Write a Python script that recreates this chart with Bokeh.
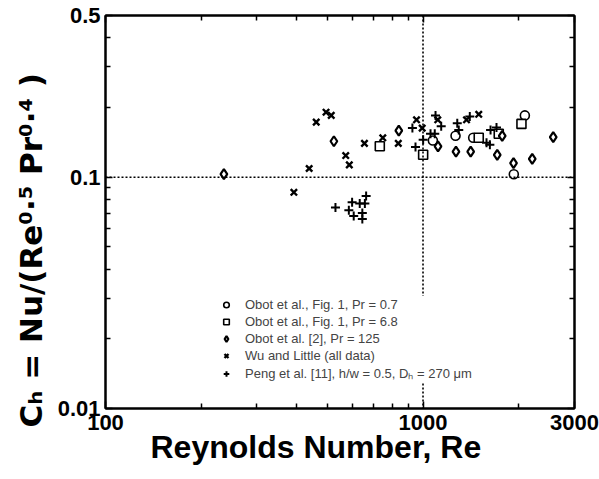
import math
from bokeh.plotting import figure
from bokeh.models import (LogAxis, FixedTicker, Span, Title, Legend, LegendItem, Range1d)
from bokeh.embed import file_html
from bokeh.resources import INLINE

# ---- data ----
re_pr07 = [1074, 1266, 1439, 1932, 2093]
c_pr07 = [0.144, 0.151, 0.148, 0.103, 0.185]

re_pr68 = [731, 1001, 1498, 1732, 2042]
c_pr68 = [0.136, 0.125, 0.148, 0.154, 0.170]

re_pr125 = [236, 524, 839, 1115, 1270, 1413, 1713, 1776, 1928, 2208, 2571]
c_pr125 = [0.103, 0.143, 0.159, 0.136, 0.129, 0.129, 0.125, 0.151, 0.115, 0.120, 0.149]

re_wu = [392, 438, 461, 495, 514, 571, 586, 654, 747, 836, 954, 994, 1113, 1371, 1498]
c_wu = [0.086, 0.109, 0.173, 0.191, 0.185, 0.124, 0.113, 0.140, 0.148, 0.140, 0.177, 0.163, 0.177, 0.177, 0.187]

re_peng = [530, 598, 632, 662, 656, 584, 605, 644, 644,
           926, 1001, 947, 1095, 1141, 1056, 1089, 1282, 1296, 1404, 1632, 1704, 1585, 1624]
c_peng = [0.074, 0.078, 0.077, 0.083, 0.077, 0.072, 0.068, 0.070, 0.066,
          0.163, 0.145, 0.135, 0.185, 0.166, 0.154, 0.154, 0.171, 0.160, 0.183, 0.160, 0.164, 0.141, 0.138]

series_labels = ["Obot et al., Fig. 1, Pr = 0.7",
                 "Obot et al., Fig. 1, Pr = 6.8",
                 "Obot et al. [2], Pr = 125",
                 "Wu and Little (all data)",
                 "Peng et al. [11], h/w = 0.5, D\u2095 = 270 \u03bcm"]

x_major = [100, 1000, 3000]
x_minor = [200, 300, 400, 500, 600, 700, 800, 900, 2000]
x_tick_labels = ["100", "1000", "3000"]
y_major = [0.01, 0.1, 0.5]
y_minor = [0.02, 0.03, 0.04, 0.05, 0.06, 0.07, 0.08, 0.09, 0.2, 0.3, 0.4]
y_tick_labels = ["0.01", "0.1", "0.5"]
ref_re = 1000
ref_c = 0.1

x_title = "Reynolds Number, Re"
y_title = "C\u2095 = Nu/(Re\u2070\u00b7\u2075 Pr\u2070\u00b7\u2074 )"

FONT = "Liberation Sans"

p = figure(width=599, height=479, x_axis_type="log", y_axis_type="log",
           x_range=Range1d(100, 3000), y_range=Range1d(0.01, 0.5),
           output_backend="svg", toolbar_location=None,
           min_border_left=105, min_border_right=25, min_border_top=15,
           min_border_bottom=71,
           background_fill_color="white", border_fill_color="white")
p.grid.visible = False
p.outline_line_color = "black"
p.outline_line_width = 2


def style_axis(ax, ticks, minor, labels, show):
    ax.ticker = FixedTicker(ticks=ticks, minor_ticks=minor)
    ax.axis_line_width = 2
    ax.axis_line_color = "black"
    ax.major_tick_in = 7
    ax.major_tick_out = 0
    ax.minor_tick_in = 5
    ax.minor_tick_out = 0
    ax.major_tick_line_width = 1.5
    ax.minor_tick_line_width = 1.5
    ax.major_label_overrides = {t: (l if show else "") for t, l in zip(ticks, labels)}
    ax.major_label_text_font = FONT
    ax.major_label_text_font_style = "bold"
    ax.major_label_text_font_size = "22px"
    ax.major_label_text_color = "black"


xa = p.xaxis[0]
ya = p.yaxis[0]
style_axis(xa, x_major, x_minor, x_tick_labels, True)
style_axis(ya, y_major, y_minor, y_tick_labels, True)
xa.major_label_standoff = 6
ya.major_label_standoff = 5

top = LogAxis()
right = LogAxis()
style_axis(top, x_major, x_minor, x_tick_labels, False)
style_axis(right, y_major, y_minor, y_tick_labels, False)
top.major_label_standoff = 0
right.major_label_standoff = 0
p.add_layout(top, "above")
p.add_layout(right, "right")

# reference dotted lines
p.add_layout(Span(location=ref_c, dimension="width", line_color="black",
                  line_width=1.6, line_dash="2 2"))
p.add_layout(Span(location=ref_re, dimension="height", line_color="black",
                  line_width=1.6, line_dash="2 2"))

r1 = p.scatter(re_pr07, c_pr07, marker="circle", size=9, fill_color="white",
               line_color="black", line_width=1.6)
r2 = p.scatter(re_pr68, c_pr68, marker="square", size=9, fill_color="white",
               line_color="black", line_width=1.6)
r3 = p.scatter(re_pr125, c_pr125, marker="diamond", size=10, fill_color="white",
               line_color="black", line_width=2.2)
r4 = p.scatter(re_wu, c_wu, marker="x", size=9, line_color="black", line_width=2.4)
r5 = p.scatter(re_peng, c_peng, marker="cross", size=9, line_color="black", line_width=2.0)

legend = Legend(items=[LegendItem(label=l, renderers=[r]) for l, r in
                       zip(series_labels, [r1, r2, r3, r4, r5])],
                location=(114, 26), label_text_font=FONT, label_text_font_size="13px",
                label_height=17, glyph_height=17, glyph_width=14, spacing=0, padding=6,
                label_standoff=12, margin=0, border_line_color=None,
                background_fill_color="white", background_fill_alpha=1.0)
p.add_layout(legend)

# axis titles as side-panel titles
p.add_layout(Title(text=x_title, align="left", offset=45, standoff=-12,
                   text_font=FONT, text_font_style="bold", text_font_size="32px",
                   text_color="black"), "below")
p.add_layout(Title(text=y_title, align="left", offset=-19, standoff=11,
                   text_font="DejaVu Sans", text_font_style="bold", text_font_size="31px",
                   text_color="black"), "left")

open("out.html", "w").write(file_html(p, INLINE))
